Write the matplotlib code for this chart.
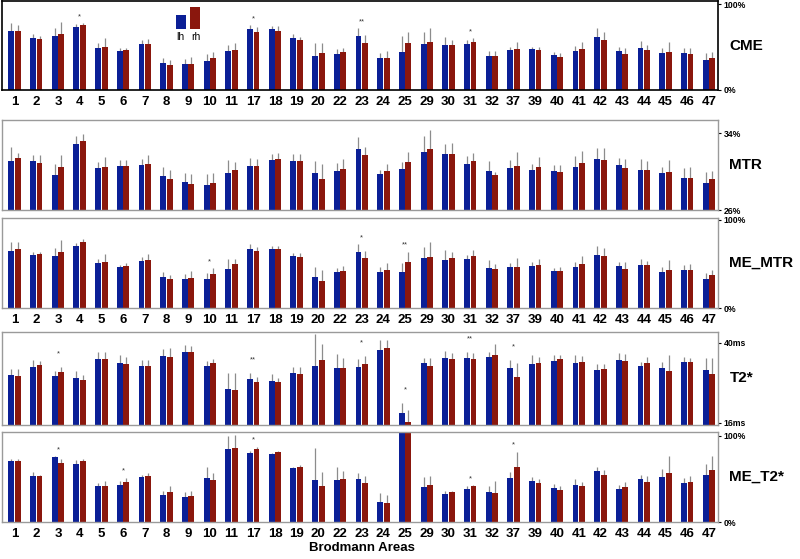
#!/usr/bin/env python
# -*- coding: utf-8 -*-
"""Paired lh/rh bar panels per Brodmann area for five quantitative MRI measures."""

import matplotlib
matplotlib.use("Agg")
import matplotlib.pyplot as plt
import numpy as np

plt.rcParams["font.family"] = ["Liberation Sans", "DejaVu Sans"]

areas = [1, 2, 3, 4, 5, 6, 7, 8, 9, 10, 11, 17, 18, 19, 20, 22, 23, 24, 25,
         29, 30, 31, 32, 37, 39, 40, 41, 42, 43, 44, 45, 46, 47]

cme_lh = [68.6, 60.9, 62.8, 73.3, 49.2, 45.7, 53.9, 31.8, 29.8, 33.3, 45.0, 71.3, 70.5, 60.0, 39.9, 41.5, 62.8,
          36.8, 44.2, 53.9, 51.9, 53.5, 39.9, 46.1, 47.7, 40.7, 45.3, 62.0, 45.3, 48.8, 42.6, 42.6, 34.5]
cme_rh = [68.6, 59.7, 65.1, 75.6, 50.4, 46.9, 53.9, 29.1, 29.8, 37.2, 46.9, 67.8, 69.0, 58.5, 42.6, 43.8, 55.0,
          37.6, 54.7, 55.8, 52.3, 55.8, 39.9, 47.3, 46.5, 38.4, 47.7, 58.0, 42.2, 46.9, 43.8, 41.9, 37.6]
cme_lh_err = [9.7, 3.9, 8.9, 3.5, 5.0, 3.5, 4.3, 5.8, 6.2, 8.1, 7.4, 4.3, 4.3, 4.7, 14.3, 6.6, 8.9,
              6.6, 18.6, 14.0, 10.0, 4.7, 5.8, 4.3, 2.7, 3.1, 6.2, 10.5, 5.0, 8.5, 5.8, 6.6, 8.9]
cme_rh_err = [7.0, 3.1, 14.0, 1.9, 9.7, 1.6, 5.4, 5.8, 8.1, 7.4, 7.4, 5.8, 5.4, 3.5, 11.6, 4.7, 8.9,
              8.1, 12.4, 16.3, 5.8, 4.3, 5.8, 8.9, 3.9, 4.3, 8.5, 9.7, 6.2, 5.4, 12.0, 6.6, 7.0]
cme_stars = {4: "*", 17: "*", 23: "**", 31: "*"}

mtr_lh = [31.1, 31.1, 29.68, 32.92, 30.34, 30.55, 30.72, 29.5, 28.88, 28.6, 29.89, 30.62, 31.18, 31.07, 29.82,
          30.1, 32.33, 29.78, 30.3, 32.08, 31.87, 30.83, 30.03, 30.34, 30.13, 30.03, 30.48, 31.35, 30.72,
          30.23, 29.85, 29.33, 28.8]
mtr_rh = [31.45, 30.93, 30.44, 33.23, 30.48, 30.55, 30.79, 29.26, 28.67, 28.81, 30.13, 30.55, 31.28, 31.07,
          29.26, 30.3, 31.7, 30.03, 30.97, 32.36, 31.8, 31.14, 29.68, 30.55, 30.44, 29.96, 30.86, 31.25,
          30.34, 30.17, 29.92, 29.33, 29.22]
mtr_lh_err = [1.46, 0.66, 1.08, 0.77, 0.66, 0.63, 0.63, 0.98, 0.98, 1.19, 1.36, 0.8, 0.7, 0.8, 1.29, 0.8, 1.29,
              0.42, 0.7, 1.6, 0.98, 0.77, 1.08, 0.9, 0.7, 0.7, 1.15, 1.12, 0.73, 1.12, 0.63, 1.08, 1.22]
mtr_rh_err = [0.52, 0.84, 1.29, 0.66, 1.05, 0.7, 0.98, 0.87, 1.12, 1.08, 0.87, 0.8, 0.66, 0.8, 1.57, 0.98, 0.87,
              0.8, 1.08, 1.95, 1.19, 0.84, 0.28, 1.5, 1.08, 0.77, 1.32, 1.25, 1.01, 0.9, 1.32, 1.15, 0.9]
mtr_stars = {}

me_mtr_lh = [65.2, 60.6, 58.7, 70.8, 51.1, 46.6, 53.8, 35.2, 33.3, 33.3, 44.7, 67.0, 67.0, 58.7, 35.6, 40.5,
             64.0, 41.3, 41.3, 56.4, 54.5, 55.7, 45.1, 46.2, 48.1, 42.4, 46.2, 60.2, 47.3, 48.5, 40.9, 42.8, 33.0]
me_mtr_rh = [67.0, 61.0, 63.3, 74.6, 52.7, 47.7, 54.9, 33.0, 33.7, 39.0, 50.0, 65.2, 67.0, 58.0, 30.7, 42.4,
             57.2, 43.2, 52.7, 57.6, 56.4, 58.7, 43.9, 46.6, 48.5, 41.7, 50.0, 58.7, 44.7, 48.5, 43.2, 43.2, 37.5]
me_mtr_lh_err = [10.2, 3.4, 9.8, 3.4, 4.2, 1.9, 4.5, 5.7, 5.3, 6.8, 10.6, 5.7, 3.8, 4.2, 11.4, 5.3, 8.3,
                 5.7, 10.2, 12.5, 11.4, 4.5, 9.5, 4.5, 4.5, 3.4, 5.7, 10.6, 4.5, 7.2, 5.3, 6.1, 7.2]
me_mtr_rh_err = [7.6, 3.0, 14.0, 3.4, 8.3, 3.0, 6.1, 4.5, 8.3, 6.1, 5.3, 4.5, 3.8, 4.2, 12.5, 5.3, 8.0,
                 7.6, 11.4, 17.8, 6.8, 7.2, 6.1, 10.6, 6.8, 4.5, 9.1, 9.1, 7.2, 5.3, 11.4, 6.8, 5.7]
me_mtr_stars = {10: "*", 23: "*", 25: "**"}

t2_lh = [30.3, 32.9, 30.1, 29.4, 35.2, 34.0, 33.2, 36.2, 37.2, 33.1, 26.2, 29.1, 28.7, 31.1, 33.1, 32.5, 32.9,
         37.9, 19.1, 33.9, 35.6, 35.6, 35.9, 32.6, 33.7, 34.6, 34.1, 31.8, 34.9, 33.1, 32.4, 34.2, 31.9]
t2_rh = [30.1, 33.3, 31.2, 28.9, 35.2, 33.7, 33.0, 35.7, 37.2, 33.9, 26.0, 28.2, 28.2, 30.8, 34.9, 32.4, 33.8,
         38.4, 16.4, 33.2, 35.2, 35.1, 36.4, 29.7, 33.9, 35.2, 34.2, 32.2, 34.6, 33.9, 31.6, 34.2, 30.7]
t2_lh_err = [1.8, 2.0, 1.6, 2.3, 2.1, 2.4, 1.6, 2.0, 2.2, 1.6, 4.7, 2.0, 1.9, 1.8, 9.6, 4.1, 2.3,
             3.0, 3.0, 1.5, 2.0, 1.6, 1.3, 2.3, 2.6, 1.8, 2.3, 1.8, 2.0, 1.3, 1.8, 1.5, 3.5]
t2_rh_err = [2.0, 1.4, 1.7, 1.5, 2.1, 2.1, 2.0, 2.8, 2.0, 1.2, 4.9, 1.5, 1.4, 1.9, 4.8, 3.0, 2.3,
             2.5, 3.5, 2.2, 1.7, 1.8, 3.3, 4.4, 1.8, 1.1, 1.9, 1.5, 2.1, 2.0, 4.8, 1.2, 4.9]
t2_stars = {3: "*", 17: "**", 23: "*", 25: "*", 31: "**", 37: "*"}

me_t2_lh = [71.0, 54.0, 75.3, 67.6, 41.7, 42.9, 52.1, 31.3, 28.6, 51.0, 84.9, 80.3, 78.8, 62.5, 48.3, 49.0,
            50.2, 23.6, 104.0, 40.5, 32.4, 37.8, 35.1, 51.7, 47.1, 39.8, 42.9, 58.7, 38.2, 50.2, 52.5, 45.9, 54.4]
me_t2_rh = [71.0, 53.7, 68.3, 71.0, 42.1, 46.3, 52.9, 34.7, 30.5, 48.3, 85.7, 84.6, 81.9, 64.1, 41.3, 49.8,
            45.2, 21.6, 104.0, 43.2, 35.1, 41.3, 33.2, 64.5, 45.2, 37.5, 42.1, 54.8, 40.2, 46.7, 56.4, 46.7, 60.6]
me_t2_lh_err = [2.3, 3.9, 1.5, 4.6, 4.2, 5.0, 2.7, 4.2, 6.2, 12.4, 15.0, 2.3, 1.2, 1.9, 37.5, 15.0, 6.6,
                10.0, 0.0, 11.6, 4.2, 4.2, 6.2, 6.9, 5.0, 4.6, 6.9, 5.0, 5.0, 4.6, 8.9, 5.8, 13.0]
me_t2_rh_err = [2.3, 1.0, 5.0, 1.9, 5.8, 5.4, 3.9, 7.7, 5.8, 8.5, 15.0, 3.1, 0.8, 2.3, 16.6, 10.0, 7.7,
                10.0, 0.0, 10.8, 1.5, 1.9, 15.0, 17.4, 4.6, 3.9, 4.2, 5.8, 6.2, 7.3, 20.8, 7.3, 16.6]
me_t2_stars = {3: "*", 6: "*", 17: "*", 31: "*", 37: "*"}

BLUE = "#0b1f96"
RED = "#8a170d"
ERR = "#8c8c8c"

# name, lh, rh, lh_err, rh_err, stars, ylim, ticks, tick labels, show x labels, star pad (pt)
panels = [
    ("CME", cme_lh, cme_rh, cme_lh_err, cme_rh_err, cme_stars, (0, 103.5), [0, 100], ["0%", "100%"], True, 2),
    ("MTR", mtr_lh, mtr_rh, mtr_lh_err, mtr_rh_err, mtr_stars, (26, 35.4), [26, 34], ["26%", "34%"], False, 2),
    ("ME_MTR", me_mtr_lh, me_mtr_rh, me_mtr_lh_err, me_mtr_rh_err, me_mtr_stars, (0, 102.2), [0, 100],
     ["0%", "100%"], True, 2),
    ("T2*", t2_lh, t2_rh, t2_lh_err, t2_rh_err, t2_stars, (15.4, 43.3), [16, 40], ["16ms", "40ms"], False, 7),
    ("ME_T2*", me_t2_lh, me_t2_rh, me_t2_lh_err, me_t2_rh_err, me_t2_stars, (0, 104.6), [0, 100],
     ["0%", "100%"], True, 2),
]

# panel extents in pixels (top, bottom) of the 559 px high figure
extents = [(1, 90), (120, 210), (218, 308), (332, 425), (432, 522)]
W, H = 800, 559
x_left, x_right = 2, 718

fig = plt.figure(figsize=(W / 100, H / 100), dpi=100)
x = np.arange(len(areas))
width = 0.27
off = 0.15

for i, (name, lh, rh, lh_err, rh_err, stars, ylim, ticks, tlabels, show_x, star_pad) in enumerate(panels):
    top, bottom = extents[i]
    ax = fig.add_axes([x_left / W, 1 - bottom / H, (x_right - x_left) / W, (bottom - top) / H])
    ax.bar(x - off, lh, width, color=BLUE, edgecolor="none", zorder=2)
    ax.bar(x + off, rh, width, color=RED, edgecolor="none", zorder=2)
    ax.errorbar(x - off, lh, yerr=[np.zeros(len(lh)), lh_err], fmt="none", ecolor=ERR, elinewidth=0.9,
                capsize=0, zorder=1)
    ax.errorbar(x + off, rh, yerr=[np.zeros(len(rh)), rh_err], fmt="none", ecolor=ERR, elinewidth=0.9,
                capsize=0, zorder=1)

    for area, label in stars.items():
        j = areas.index(area)
        ytop = max(lh[j] + lh_err[j], rh[j] + rh_err[j])
        ax.annotate(label, (x[j], ytop), xytext=(0, star_pad), textcoords="offset points",
                    ha="center", va="bottom", fontsize=5.5, color="#333333")

    ax.set_xlim(-0.58, len(areas) - 0.58)
    ax.set_ylim(*ylim)
    ax.yaxis.tick_right()
    ax.set_yticks(ticks)
    ax.set_yticklabels(tlabels, fontsize=6.2, fontweight="bold")
    ax.tick_params(axis="y", length=2.5, width=0.8, pad=1.5, colors="black")
    ax.set_xticks(x)
    if show_x:
        ax.set_xticklabels([str(a) for a in areas], fontsize=9.5, fontweight="bold")
        ax.tick_params(axis="x", length=0, pad=4.5)
    else:
        ax.tick_params(axis="x", length=0, labelbottom=False)

    spine_color = "black" if i == 0 else "#9a9a9a"
    for sp in ax.spines.values():
        sp.set_color(spine_color)
        sp.set_linewidth(1.2 if i == 0 else 1.0)

    ax.text(1.016, 0.5, name, transform=ax.transAxes, ha="left", va="center",
            fontsize=11, fontweight="bold")

    if i == 0:
        # little bar-style legend
        lax = ax.inset_axes([0.242, 0.69, 0.036, 0.245])
        lax.bar([0, 1], [0.62, 1.0], width=0.72, color=[BLUE, RED])
        lax.set_xlim(-0.45, 1.45)
        lax.set_ylim(0, 1)
        lax.axis("off")
        ax.text(0.2495, 0.59, "lh", transform=ax.transAxes, ha="center", va="center", fontsize=7.5)
        ax.text(0.271, 0.59, "rh", transform=ax.transAxes, ha="center", va="center", fontsize=7.5)

fig.text(362 / W, 1 - 548 / H, "Brodmann Areas", ha="center", va="center", fontsize=9.5, fontweight="bold")

fig.savefig("out.png", dpi=100)
